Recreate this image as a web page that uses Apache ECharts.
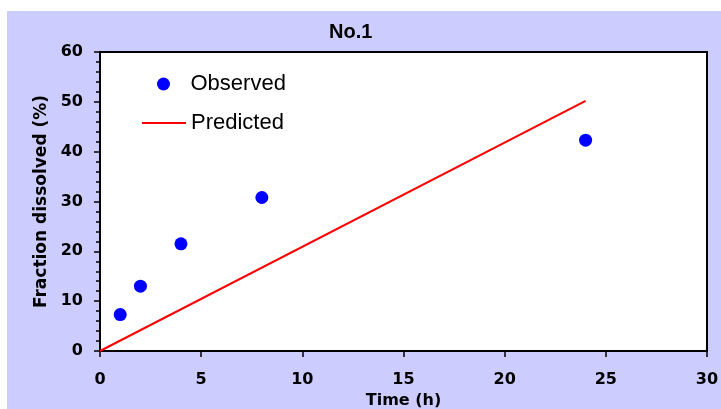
<!DOCTYPE html>
<html>
<head>
<meta charset="utf-8">
<script src="https://cdn.jsdelivr.net/npm/echarts@6/dist/echarts.min.js"></script>
<style>html,body{margin:0;padding:0;background:#fff}#c{width:721px;height:409px}</style>
</head>
<body>
<div id="c"></div>
<script>
var titleText = "No.1";
var xName = "Time (h)";
var yName = "Fraction dissolved (%)";
var observedTime = [1, 2, 4, 8, 24];
var observedValues = [7.3, 13.0, 21.5, 30.8, 42.3];
var predictedTime = [0, 24];
var predictedValues = [0, 50.2];

var chart = echarts.init(document.getElementById('c'));
var tickFont = {color: '#000', fontFamily: 'DejaVu Sans', fontWeight: 'bold', fontSize: 16};
chart.setOption({
  backgroundColor: '#fff',
  animation: false,
  graphic: [{type: 'rect', left: 7, top: 11, shape: {width: 714, height: 398}, style: {fill: '#ccccff'}, z: -10, silent: true}],
  title: {text: titleText, left: 329, top: 22, padding: 0,
    textStyle: {color: '#000', fontFamily: 'Liberation Sans', fontWeight: 'bold', fontSize: 20}},
  legend: [
    {left: 157, top: 73, padding: 0, itemWidth: 44, itemHeight: 13, data: [{name: 'Observed', icon: 'circle'}],
     textStyle: {color: '#000', fontFamily: 'Liberation Sans', fontSize: 22, lineHeight: 22}},
    {left: 142, top: 112, padding: 0, itemWidth: 44, itemHeight: 2,
     data: [{name: 'Predicted', icon: 'rect', itemStyle: {color: '#ff0000'}}],
     textStyle: {color: '#000', fontFamily: 'Liberation Sans', fontSize: 22, lineHeight: 22}}
  ],
  grid: {left: 100, top: 52, right: 14, bottom: 58, show: true, backgroundColor: '#fff', borderColor: '#000', borderWidth: 2,
    containLabel: false, outerBoundsMode: 'none'},
  xAxis: {type: 'value', min: 0, max: 30, interval: 5,
    name: xName, nameLocation: 'middle', nameGap: 40, nameTextStyle: tickFont,
    axisLine: {show: true, onZero: false, lineStyle: {color: '#000', width: 2}},
    axisTick: {show: true, inside: false, length: 6, lineStyle: {color: '#000', width: 1.5}},
    axisLabel: Object.assign({margin: 21}, tickFont),
    splitLine: {show: false}},
  yAxis: {type: 'value', min: 0, max: 60, interval: 10,
    name: yName, nameLocation: 'middle', nameGap: 48, nameRotate: 90,
    nameTextStyle: Object.assign({}, tickFont, {fontSize: 17}),
    axisLine: {show: true, onZero: false, lineStyle: {color: '#000', width: 2}},
    axisTick: {show: true, inside: false, length: 6, lineStyle: {color: '#000', width: 1.5}},
    minorTick: {show: true, splitNumber: 5, length: 4, lineStyle: {color: '#000', width: 1.5}},
    axisLabel: Object.assign({margin: 17}, tickFont),
    splitLine: {show: false}},
  series: [
    {name: 'Observed', type: 'scatter', symbol: 'circle', symbolSize: 13,
     itemStyle: {color: '#0000ff', opacity: 1},
     data: observedTime.map(function (t, i) { return [t, observedValues[i]]; })},
    {name: 'Predicted', type: 'line', symbol: 'none', showSymbol: false,
     lineStyle: {color: '#ff0000', width: 2}, itemStyle: {color: '#ff0000'},
     data: predictedTime.map(function (t, i) { return [t, predictedValues[i]]; })}
  ]
});
</script>
</body>
</html>
